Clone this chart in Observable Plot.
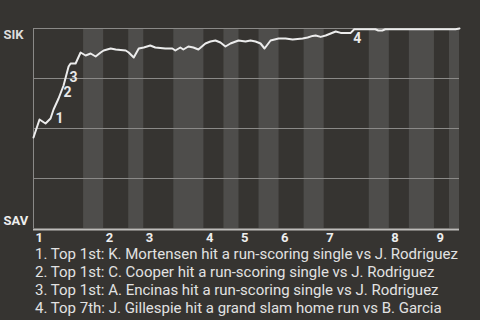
<!DOCTYPE html>
<html><head><meta charset="utf-8">
<script src="https://cdn.jsdelivr.net/npm/d3@7"></script>
<script src="https://cdn.jsdelivr.net/npm/@observablehq/plot@0.6"></script>
<style>
html,body{margin:0;padding:0;background:#363431;width:480px;height:320px;overflow:hidden;font-family:Roboto,sans-serif;}
#chart svg{display:block;}
#notes{color:#e2e2e2;font-size:15px;line-height:18px;padding-left:35px;white-space:nowrap;margin-top:1px;}
</style></head><body>
<div id="chart"></div>
<div id="notes"></div>
<script>
// Innings and half-inning boundaries (in play-index units)
const innings = [1, 2, 3, 4, 5, 6, 7, 8, 9];
const topStart = [0, 14, 22, 34, 41, 49, 58, 71, 80];
const botStart = [10, 19, 28, 38, 45, 54, 67, 75, 83];
const botEnd   = [14, 22, 34, 41, 49, 58, 71, 80, 85];

// Win probability for SIK (top) vs SAV (bottom), by play position
const playX = [0, 1.2, 2.4, 3.4, 4.0, 5.0, 6.0, 7.0, 7.4, 8.4, 9.4, 10.4, 11.4, 12.4, 13.4, 14.0, 15.4, 16.4, 18.4, 19.0,
  20.0, 21.0, 22.0, 23.3, 24.3, 26.3, 27.7, 28.3, 29.3, 29.9, 30.9, 31.9, 32.9, 34.3, 35.3, 36.3, 37.3, 38.3, 39.3, 40.9,
  42.3, 43.3, 44.3, 45.3, 46.1, 47.3, 48.9, 50.3, 51.7, 53.7, 54.7, 55.7, 56.3, 57.3, 58.3, 59.3, 60.3, 61.3, 63.3, 64.0,
  68.2, 68.8, 69.6, 70.2, 84.2, 85];
const winProb = [0.455, 0.545, 0.525, 0.55, 0.595, 0.65, 0.715, 0.81, 0.825, 0.825, 0.88, 0.865, 0.875, 0.86, 0.88, 0.89, 0.90, 0.895, 0.89, 0.88,
  0.855, 0.90, 0.905, 0.915, 0.905, 0.90, 0.90, 0.89, 0.905, 0.895, 0.91, 0.905, 0.895, 0.925, 0.935, 0.94, 0.93, 0.91, 0.925, 0.94,
  0.935, 0.94, 0.935, 0.925, 0.90, 0.94, 0.95, 0.95, 0.945, 0.95, 0.955, 0.963, 0.965, 0.958, 0.965, 0.975, 0.985, 0.978, 0.978, 0.996,
  0.996, 0.99, 0.99, 0.996, 0.996, 1.0];

// Key events
const eventNum = ["1", "2", "3", "4"];
const eventX = [4.2, 5.8, 7.0, 63.6];
const eventProb = [0.596, 0.726, 0.80, 0.996];
const eventText = [
  "Top 1st: K. Mortensen hit a run-scoring single vs J. Rodriguez",
  "Top 1st: C. Cooper hit a run-scoring single vs J. Rodriguez",
  "Top 1st: A. Encinas hit a run-scoring single vs J. Rodriguez",
  "Top 7th: J. Gillespie hit a grand slam home run vs B. Garcia"
];
const teamTop = "SIK";
const teamBottom = "SAV";
const gridValues = [0.25, 0.5, 0.75, 1];

const chart = Plot.plot({
  width: 480, height: 244,
  marginLeft: 33, marginRight: 21, marginTop: 28, marginBottom: 16,
  style: {background: "#363431", fontFamily: "Roboto, sans-serif", overflow: "visible"},
  x: {domain: [0, 85], axis: null},
  y: {domain: [0, 1], axis: null},
  marks: [
    Plot.rect(innings, {x1: (d, i) => botStart[i], x2: (d, i) => botEnd[i], y1: 0, y2: 1, fill: "#4e4d4b"}),
    Plot.ruleY(gridValues, {stroke: "#8a8987", strokeWidth: 1}),
    Plot.ruleX([0], {y1: 0, y2: 1, stroke: "#8a8987", strokeWidth: 1}),
    Plot.ruleY([0], {stroke: "#bdbcba", strokeWidth: 2, dy: 1}),
    Plot.line(winProb, {x: (d, i) => playX[i], y: d => d, stroke: "#ececec", strokeWidth: 2}),
    Plot.text(eventNum, {x: (d, i) => eventX[i], y: (d, i) => eventProb[i], text: d => d,
      textAnchor: "start", lineAnchor: "top", dx: 1, dy: 4, fill: "#e8e8e8", fontWeight: "bold", fontSize: 14}),
    Plot.text(innings, {x: (d, i) => topStart[i], frameAnchor: "bottom", text: d => String(d),
      textAnchor: "start", lineAnchor: "top", dx: 2, dy: 4, fill: "#eeeeee", fontWeight: "bold", fontSize: 13}),
    Plot.text([teamTop], {frameAnchor: "top-left", text: d => d, textAnchor: "start", lineAnchor: "top",
      dx: -30, dy: 1, fill: "#dddddd", fontWeight: "bold", fontSize: 13}),
    Plot.text([teamBottom], {frameAnchor: "bottom-left", text: d => d, textAnchor: "start", lineAnchor: "bottom",
      dx: -30, dy: -4, fill: "#eeeeee", fontWeight: "bold", fontSize: 13})
  ]
});
document.getElementById("chart").appendChild(chart);
const notes = document.getElementById("notes");
eventText.forEach((t, i) => {
  const div = document.createElement("div");
  div.textContent = `${eventNum[i]}. ${t}`;
  notes.appendChild(div);
});
</script>
</body></html>
